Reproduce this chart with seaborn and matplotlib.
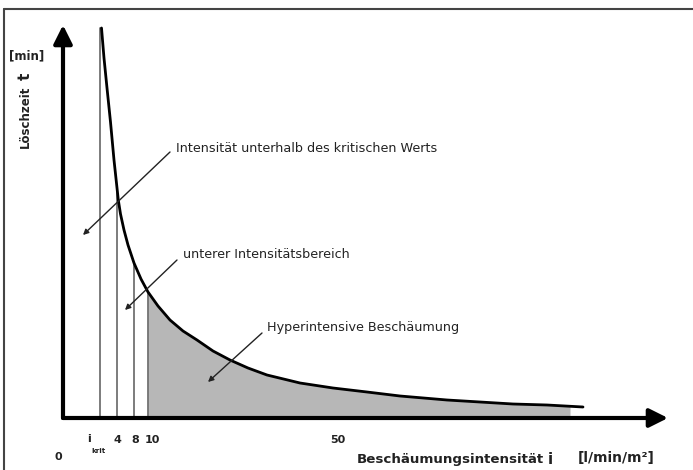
# Schematic: Löschzeit über Beschäumungsintensität
import numpy as np
import pandas as pd
import matplotlib.pyplot as plt
import seaborn as sns
from matplotlib.lines import Line2D

# Curve (schematic units)
intensity = [7.7, 8.2, 8.8, 9.5, 10.2, 11.06, 11.5, 12.2, 13.0, 14.2, 15.6, 17.0,
             19.0, 21.4, 24.0, 26.8, 30.0, 33.4, 37.0, 40.8, 47.4, 54.0, 60.8,
             67.4, 76.8, 83.4, 90.0, 96.8, 104.0]
loeschzeit = [78.0, 72.0, 66.0, 59.2, 51.6, 43.6, 40.8, 37.6, 34.6, 31.0, 27.8, 25.2,
              22.4, 19.6, 17.4, 15.6, 13.4, 11.6, 10.0, 8.6, 7.0, 6.0, 5.2,
              4.4, 3.6, 3.2, 2.8, 2.6, 2.2]

# Marked intensities (vertical lines) and tick labels
mark_pos = [7.4, 10.8, 14.2, 17.0]
tick_pos = [10.8, 14.4, 17.8, 55.0]
tick_labels = ["4", "8", "10", "50"]
shade_start = 17.0
shade_end = 101.4

df = pd.DataFrame({"i": intensity, "t": loeschzeit})

sns.set_style("white")
plt.rcParams["font.family"] = ["DejaVu Sans"]

fig = plt.figure(figsize=(6.93, 4.70), dpi=100)
ax = fig.add_axes([63 / 693, 52 / 470, 617 / 693, 398 / 470])

txt = "#222222"

# shaded area (hyperintensive range)
xs = np.array(intensity)
ys = np.array(loeschzeit)
sel = (xs > shade_start) & (xs < shade_end)
fx = np.concatenate([[shade_start], xs[sel], [shade_end]])
fy = np.concatenate([[np.interp(shade_start, xs, ys)], ys[sel], [np.interp(shade_end, xs, ys)]])
ax.fill_between(fx, 0, fy, color="#b7b7b7", lw=0, zorder=1)

# vertical marker lines up to the curve
for p in mark_pos:
    top = loeschzeit[0] if p < intensity[0] else np.interp(p, xs, ys)
    ax.plot([p, p], [0, top], color="#666666", lw=1.2, zorder=2)

# curve
sns.lineplot(data=df, x="i", y="t", color="black", lw=2.0, sort=False, ax=ax, zorder=3)
ax.set_xlim(0, 123.4)
ax.set_ylim(0, 79.6)
ax.axis("off")

# axes arrows
for tip in [(121.0, 0), (0, 78.6)]:
    ax.annotate("", xy=tip, xytext=(0, 0),
                arrowprops=dict(arrowstyle="-|>", lw=3, color="black", mutation_scale=28,
                                shrinkA=0, shrinkB=0), annotation_clip=False)

# tick labels
for p, lab in zip(tick_pos, tick_labels):
    ax.text(p, -4.4, lab, ha="center", va="center", fontsize=8, fontweight="bold", color=txt)
ax.text(5.2, -4.2, "i", ha="center", va="center", fontsize=8, fontweight="bold", color=txt)
ax.text(7.0, -6.6, "krit", ha="center", va="center", fontsize=5, fontweight="bold", color=txt)
ax.text(-1.0, -7.8, "0", ha="center", va="center", fontsize=8, fontweight="bold", color=txt)

# axis titles
ax.text(-7.2, 72.4, "[min]", ha="center", va="center", fontsize=8.5, fontweight="bold", color=txt)
ax.text(-7.6, 60.2, "Löschzeit", ha="center", va="center", rotation=90,
        fontsize=8.5, fontweight="bold", color=txt)
ax.text(-7.6, 68.4, "t", ha="center", va="center", rotation=90,
        fontsize=11, fontweight="bold", color=txt)
ax.text(58.8, -8.4, "Beschäumungsintensität", ha="left", va="center",
        fontsize=9.6, fontweight="bold", color=txt)
ax.text(97.4, -8.2, "i", ha="center", va="center", fontsize=11, fontweight="bold", color=txt)
ax.text(103.0, -8.0, "[l/min/m²]", ha="left", va="center", fontsize=10,
        fontweight="bold", color=txt)

# annotations
notes = [
    ("Intensität unterhalb des kritischen Werts", (22.6, 54.0), (21.4, 53.2), (4.0, 36.6)),
    ("unterer Intensitätsbereich", (24.0, 32.6), (22.8, 31.6), (12.4, 21.6)),
    ("Hyperintensive Beschäumung", (40.8, 18.0), (39.8, 17.0), (29.0, 7.2)),
]
for label, tpos, start, end in notes:
    ax.text(tpos[0], tpos[1], label, ha="left", va="center", fontsize=9.2, color=txt)
    ax.annotate("", xy=end, xytext=start,
                arrowprops=dict(arrowstyle="-|>", lw=1.0, color="#222222",
                                mutation_scale=8, shrinkA=0, shrinkB=0))

# frame around the picture
fig.add_artist(Line2D([4 / 693, 4 / 693], [0, 1 - 9 / 470], color="#444444", lw=1.5))
fig.add_artist(Line2D([4 / 693, 1], [1 - 9 / 470, 1 - 9 / 470], color="#444444", lw=1.5))

fig.savefig("out.png", dpi=100)
